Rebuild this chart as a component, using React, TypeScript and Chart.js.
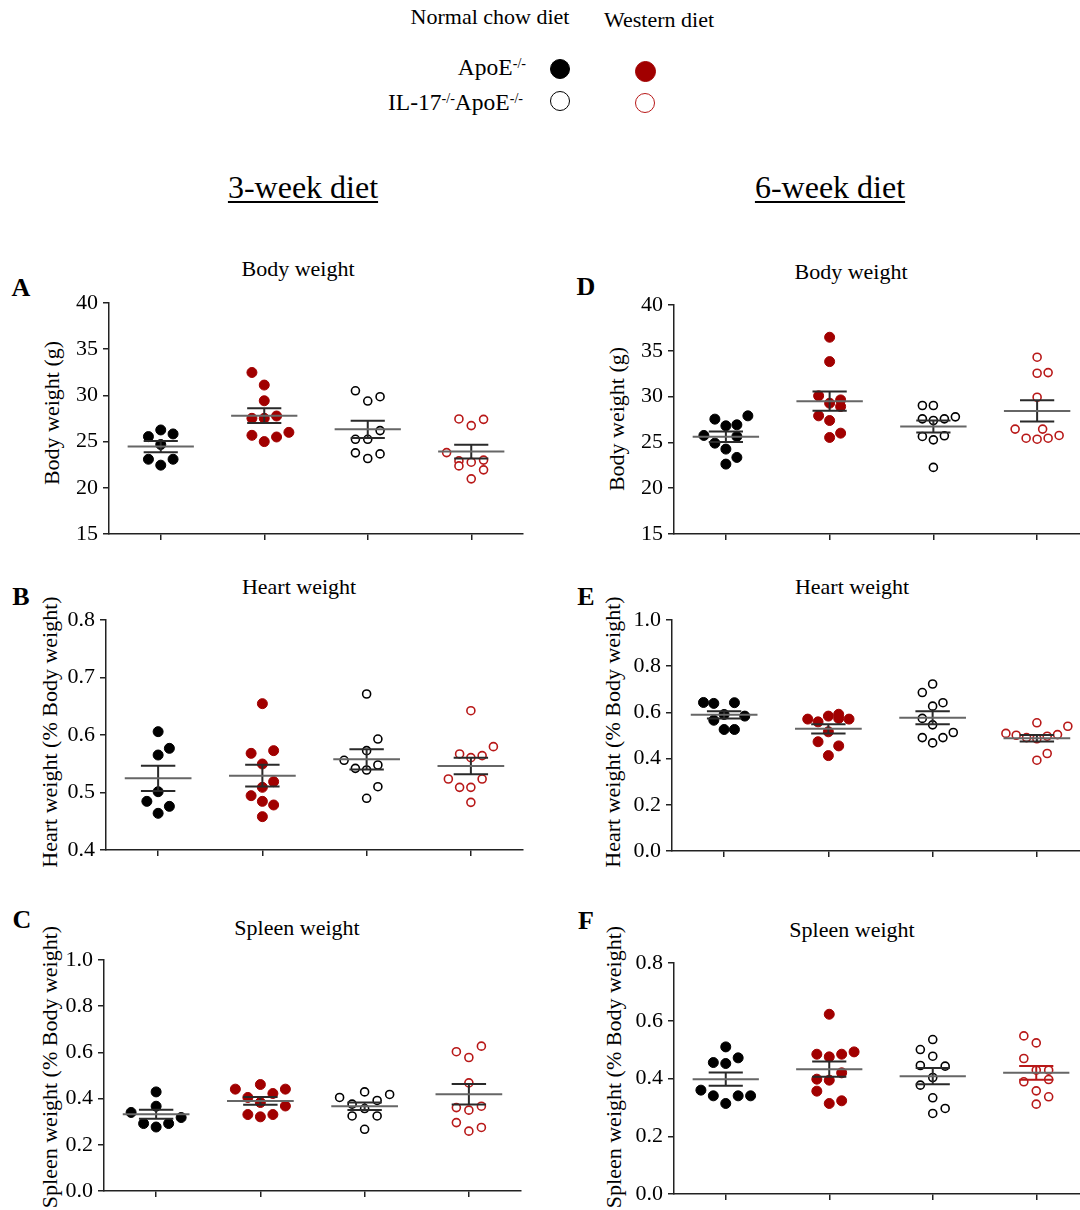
import React, { useEffect, useRef } from 'react';
import { Chart, registerables } from 'chart.js';

Chart.register(...registerables);

const FONT = '"Liberation Serif", "Times New Roman", Times, serif';
Chart.defaults.font.family = FONT;

// ---------- data ----------
const groupNames = ['ApoE-/- normal chow', 'ApoE-/- Western', 'IL-17-/-ApoE-/- normal chow', 'IL-17-/-ApoE-/- Western'];
const categories = [1, 2, 3, 4];

// A: Body weight, 3-week diet (g)
const aValues = [
  [26.26, 25.83, 25.54, 24.68, 23.09, 23.09, 22.45],
  [32.48, 31.12, 29.42, 27.52, 27.52, 27.77, 25.68, 25.0, 25.5, 26.0],
  [30.5, 29.39, 29.86, 26.19, 25.25, 25.25, 23.78, 23.17, 23.67],
  [27.45, 26.73, 27.41, 23.81, 22.91, 22.37, 22.77, 23.0, 21.94, 20.97],
];
const aSlots = [
  [0, 1, -1, 0, -1, 1, 0],
  [-1, 0, 0, -1, 0, 1, -1, 0, 1, 2],
  [-1, 0, 1, 1, -1, 0, -1, 0, 1],
  [-1, 0, 1, -2, -1, -1, 0, 1, 1, 0],
];
const aMean = [24.46, 27.81, 26.33, 23.92];
const aSem = [0.6, 0.79, 0.93, 0.75];
const aTicks = [15, 20, 25, 30, 35, 40];

// D: Body weight, 6-week diet (g)
const dValues = [
  [27.54, 27.9, 26.81, 26.92, 25.76, 25.65, 24.92, 24.27, 23.36, 22.63],
  [36.48, 33.82, 30.08, 29.28, 29.64, 28.92, 27.9, 27.39, 25.54, 26.01],
  [29.03, 29.03, 27.57, 27.39, 27.57, 27.79, 25.65, 25.28, 25.72, 22.27],
  [34.3, 32.55, 32.62, 29.93, 26.45, 25.46, 25.35, 26.45, 25.46, 25.76],
];
const dSlots = [
  [-1, 2, 0, 1, -2, 1, -1, 0, 1, 0],
  [0, 0, -1, 0, 1, 1, -1, 0, 0, 1],
  [-1, 0, -1, 0, 1, 2, -1, 0, 1, 0],
  [0, 0, 1, 0, -2, -1, 0, 0.5, 1, 2],
];
const dMean = [25.61, 29.5, 26.74, 28.44];
const dSem = [0.57, 1.05, 0.66, 1.15];
const dTicks = [15, 20, 25, 30, 35, 40];

// B: Heart weight, 3-week diet (% body weight)
const bValues = [
  [0.6058, 0.5768, 0.5652, 0.5014, 0.4846, 0.4759, 0.4638],
  [0.6545, 0.5681, 0.5728, 0.5496, 0.5188, 0.509, 0.4945, 0.4846, 0.4783, 0.458],
  [0.6713, 0.593, 0.5728, 0.556, 0.542, 0.5391, 0.5478, 0.5101, 0.4899],
  [0.6423, 0.5797, 0.567, 0.5606, 0.5641, 0.5235, 0.5235, 0.509, 0.509, 0.4829],
];
const bSlots = [
  [0, 1, 0, 0, -1, 1, 0],
  [0, -1, 1, 0, 1, 0, -1, 0, 1, 0],
  [0, 1, 0, -2, -1, 0, 1, 1, 0],
  [0, 2, -1, 0, 1, -2, 1, -1, 0, 0],
];
const bMean = [0.5246, 0.5293, 0.5577, 0.5461];
const bSem = [0.0218, 0.0189, 0.0177, 0.0142];
const bTicks = [0.4, 0.5, 0.6, 0.7, 0.8];

// E: Heart weight, 6-week diet (% body weight)
const eValues = [
  [0.643, 0.639, 0.642, 0.591, 0.584, 0.566, 0.526, 0.526],
  [0.571, 0.559, 0.584, 0.592, 0.574, 0.571, 0.516, 0.473, 0.455, 0.413],
  [0.723, 0.686, 0.642, 0.627, 0.574, 0.546, 0.513, 0.491, 0.491, 0.468],
  [0.555, 0.54, 0.509, 0.501, 0.491, 0.486, 0.497, 0.504, 0.422, 0.393],
];
const eSlots = [
  [-2, -1, 1, 0, 2, -1, 0, 1],
  [-2, -1, 0, 1, 1, 2, 0, -1, 1, 0],
  [0, -1, 1, 0, -1, 0, 2, 1, -1, 0],
  [0, 3, -3, -2, -1, 0, 1, 2, 1, 0],
];
const eMean = [0.5896, 0.529, 0.577, 0.488];
const eSem = [0.0159, 0.02, 0.028, 0.014];
const eTicks = [0, 0.2, 0.4, 0.6, 0.8, 1.0];

// C: Spleen weight, 3-week diet (% body weight)
const cValues = [
  [0.429, 0.367, 0.34, 0.318, 0.292, 0.292, 0.277],
  [0.461, 0.441, 0.441, 0.422, 0.405, 0.383, 0.368, 0.331, 0.331, 0.321],
  [0.429, 0.418, 0.405, 0.392, 0.376, 0.357, 0.325, 0.325, 0.267],
  [0.627, 0.603, 0.578, 0.468, 0.367, 0.361, 0.35, 0.296, 0.275, 0.259],
];
const cSlots = [
  [0, 0, -2, 2, -1, 1, 0],
  [0, -2, 2, 1, -1, 0, 2, -1, 1, 0],
  [0, 2, -2, 1, -1, 0, -1, 1, 0],
  [1, -1, 0, 0, 1, -1, 0, -1, 1, 0],
];
const cMean = [0.332, 0.39, 0.367, 0.419];
const cSem = [0.0195, 0.017, 0.0165, 0.044];
const cTicks = [0, 0.2, 0.4, 0.6, 0.8, 1.0];

// F: Spleen weight, 6-week diet (% body weight)
const fValues = [
  [0.5095, 0.4553, 0.4519, 0.4715, 0.3597, 0.34, 0.34, 0.34, 0.3135],
  [0.6225, 0.4841, 0.4749, 0.4841, 0.4922, 0.4196, 0.3977, 0.3942, 0.3562, 0.3135, 0.3228],
  [0.5349, 0.5003, 0.4772, 0.445, 0.4427, 0.4035, 0.3769, 0.3331, 0.2963, 0.279],
  [0.5476, 0.5233, 0.4692, 0.4288, 0.4288, 0.3885, 0.3965, 0.3573, 0.3366, 0.3112],
];
const fSlots = [
  [0, -1, 0, 1, -2, -1, 1, 2, 0],
  [0, -1, 0, 1, 2, 1, -1, 0, -1, 0, 1],
  [0, -1, 0, -1, 1, 0, -1, 0, 1, 0],
  [-1, 0, -1, 0, 1, -1, 1, 0, 1, 0],
];
const fMean = [0.3977, 0.4323, 0.4081, 0.4196];
const fSem = [0.023, 0.0265, 0.0283, 0.0237];
const fTicks = [0, 0.2, 0.4, 0.6, 0.8];

// ---------- styles ----------
const AXIS = '#222222';
const MEAN_COLOR = '#666666';
const SEM_COLOR = '#2a2a2a';
const RED_FILL = '#a10000';
const RED_LINE = '#b81818';

const groupStyle = [
  { fill: '#000000', stroke: '#000000', radius: 5, border: 1 },
  { fill: RED_FILL, stroke: RED_FILL, radius: 5, border: 1 },
  { fill: '#ffffff', stroke: '#000000', radius: 4, border: 1.6 },
  { fill: '#ffffff', stroke: RED_LINE, radius: 4, border: 1.6 },
];

type Box = { left: number; top: number; w: number; h: number };
type PanelCfg = {
  values: number[][];
  slots: number[][];
  mean: number[];
  sem: number[];
  ticks: number[];
  decimals: number;
  slotWidth: number;
  semColors: string[];
  box: Box;
};

const PAD_L = 80;
const PAD_T = 20;
const PAD_R = 10;
const PAD_B = 30;

function buildDatasets(p: PanelCfg) {
  const ds: any[] = [];
  categories.forEach((c, g) => {
    const m = p.mean[g];
    const s = p.sem[g];
    ds.push({
      type: 'line',
      label: groupNames[g] + ' mean',
      data: [{ x: c - 0.32, y: m }, { x: c + 0.32, y: m }],
      borderColor: MEAN_COLOR,
      borderWidth: 2,
      pointRadius: 0,
      fill: false,
      order: 0,
    });
    ds.push({
      type: 'line',
      label: groupNames[g] + ' SEM',
      data: [
        { x: c - 0.165, y: m + s },
        { x: c + 0.165, y: m + s },
        { x: c + 0.165, y: null },
        { x: c - 0.165, y: m - s },
        { x: c + 0.165, y: m - s },
        { x: c, y: null },
        { x: c, y: m + s },
        { x: c, y: m - s },
      ],
      borderColor: p.semColors[g],
      borderWidth: 2,
      pointRadius: 0,
      spanGaps: false,
      fill: false,
      order: 0,
    });
  });
  p.values.forEach((vals, g) => {
    const st = groupStyle[g];
    ds.push({
      type: 'scatter',
      label: groupNames[g],
      data: vals.map((v, i) => ({ x: categories[g] + p.slots[g][i] * p.slotWidth, y: v })),
      pointRadius: st.radius,
      pointBackgroundColor: st.fill,
      pointBorderColor: st.stroke,
      pointBorderWidth: st.border,
      order: 1,
    });
  });
  return ds;
}

function Panel({ cfg }: { cfg: PanelCfg }) {
  const ref = useRef<HTMLCanvasElement | null>(null);
  const { box } = cfg;
  const W = Math.round(box.w + PAD_L + PAD_R);
  const H = Math.round(box.h + PAD_T + PAD_B);
  useEffect(() => {
    if (!ref.current) return;
    const chart = new Chart(ref.current, {
      type: 'scatter',
      data: { datasets: buildDatasets(cfg) },
      options: {
        responsive: false,
        animation: false,
        devicePixelRatio: 1,
        layout: { padding: { left: 0, top: PAD_T, right: PAD_R, bottom: 0 } },
        plugins: { legend: { display: false }, tooltip: { enabled: false }, title: { display: false } },
        scales: {
          x: {
            type: 'linear',
            min: 0.5,
            max: 4.5,
            afterBuildTicks: (s: any) => {
              s.ticks = categories.map((v) => ({ value: v }));
            },
            afterFit: (s: any) => {
              s.height = PAD_B;
            },
            ticks: { display: false },
            grid: { drawOnChartArea: false, drawTicks: true, tickLength: 6, color: AXIS, lineWidth: 1.5 },
            border: { display: true, color: AXIS, width: 1.5 },
          },
          y: {
            type: 'linear',
            min: cfg.ticks[0],
            max: cfg.ticks[cfg.ticks.length - 1],
            afterBuildTicks: (s: any) => {
              s.ticks = cfg.ticks.map((v) => ({ value: v }));
            },
            afterFit: (s: any) => {
              s.width = PAD_L;
            },
            ticks: {
              font: { family: FONT, size: 22 },
              color: '#000',
              padding: 5,
              callback: (v: any) => Number(v).toFixed(cfg.decimals),
            },
            grid: { drawOnChartArea: false, drawTicks: true, tickLength: 6, color: AXIS, lineWidth: 1.5 },
            border: { display: true, color: AXIS, width: 1.5 },
          },
        },
      } as any,
    });
    return () => chart.destroy();
  }, []);
  return (
    <canvas
      ref={ref}
      width={W}
      height={H}
      style={{ position: 'absolute', left: box.left - PAD_L, top: box.top - PAD_T, width: W, height: H }}
    />
  );
}

const defaultSem = [SEM_COLOR, SEM_COLOR, SEM_COLOR, SEM_COLOR];

const panels: { key: string; cfg: PanelCfg }[] = [
  { key: 'A', cfg: { values: aValues, slots: aSlots, mean: aMean, sem: aSem, ticks: aTicks, decimals: 0, slotWidth: 0.119, semColors: defaultSem, box: { left: 109, top: 303, w: 414, h: 231 } } },
  { key: 'D', cfg: { values: dValues, slots: dSlots, mean: dMean, sem: dSem, ticks: dTicks, decimals: 0, slotWidth: 0.106, semColors: defaultSem, box: { left: 674, top: 305, w: 415, h: 229 } } },
  { key: 'B', cfg: { values: bValues, slots: bSlots, mean: bMean, sem: bSem, ticks: bTicks, decimals: 1, slotWidth: 0.108, semColors: defaultSem, box: { left: 106, top: 620, w: 417, h: 230 } } },
  { key: 'E', cfg: { values: eValues, slots: eSlots, mean: eMean, sem: eSem, ticks: eTicks, decimals: 1, slotWidth: 0.099, semColors: defaultSem, box: { left: 672, top: 620, w: 417, h: 231 } } },
  { key: 'C', cfg: { values: cValues, slots: cSlots, mean: cMean, sem: cSem, ticks: cTicks, decimals: 1, slotWidth: 0.12, semColors: defaultSem, box: { left: 104, top: 960, w: 417, h: 231 } } },
  { key: 'F', cfg: { values: fValues, slots: fSlots, mean: fMean, sem: fSem, ticks: fTicks, decimals: 1, slotWidth: 0.12, semColors: [SEM_COLOR, SEM_COLOR, SEM_COLOR, RED_LINE], box: { left: 674, top: 963, w: 414, h: 231 } } },
];

type TProps = {
  x: number;
  y: number;
  size: number;
  children: React.ReactNode;
  bold?: boolean;
  rotate?: boolean;
  underline?: boolean;
  anchor?: 'center' | 'right';
};

function T({ x, y, size, children, bold, rotate, underline, anchor = 'center' }: TProps) {
  const tx = anchor === 'right' ? '-100%' : '-50%';
  return (
    <div
      style={{
        position: 'absolute',
        left: x,
        top: y,
        transform: `translate(${tx},-50%)${rotate ? ' rotate(-90deg)' : ''}`,
        fontSize: size,
        lineHeight: 1,
        whiteSpace: 'nowrap',
        fontWeight: bold ? 'bold' : 'normal',
        textDecoration: underline ? 'underline' : 'none',
        textDecorationThickness: underline ? 2 : undefined,
        textUnderlineOffset: underline ? 3 : undefined,
      }}
    >
      {children}
    </div>
  );
}

function Dot({ x, y, d, fill, stroke, bw }: { x: number; y: number; d: number; fill: string; stroke: string; bw: number }) {
  return (
    <div
      style={{
        position: 'absolute',
        left: x - d / 2,
        top: y - d / 2,
        width: d,
        height: d,
        boxSizing: 'border-box',
        borderRadius: '50%',
        background: fill,
        border: `${bw}px solid ${stroke}`,
      }}
    />
  );
}

const supStyle: React.CSSProperties = { fontSize: '0.6em', verticalAlign: '0.55em', lineHeight: 0 };

export default function App() {
  return (
    <div
      style={{
        position: 'absolute',
        left: 0,
        top: 0,
        width: 1080,
        height: 1210,
        overflow: 'hidden',
        background: '#fff',
        fontFamily: FONT,
        color: '#000',
      }}
    >
      {/* legend */}
      <T x={490} y={17} size={22}>Normal chow diet</T>
      <T x={659} y={20} size={22}>Western diet</T>
      <T x={526} y={68} size={23.5} anchor="right">
        ApoE<span style={supStyle}>-/-</span>
      </T>
      <T x={523} y={103} size={23.5} anchor="right">
        IL-17<span style={supStyle}>-/-</span>ApoE<span style={supStyle}>-/-</span>
      </T>
      <Dot x={560} y={69} d={20} fill="#000" stroke="#000" bw={1} />
      <Dot x={645} y={71} d={21} fill={RED_FILL} stroke={RED_FILL} bw={1} />
      <Dot x={560} y={101} d={20} fill="#fff" stroke="#000" bw={1.5} />
      <Dot x={645} y={103} d={20} fill="#fff" stroke={RED_LINE} bw={1.5} />

      {/* column headers */}
      <T x={303} y={187} size={32} underline>3-week diet</T>
      <T x={830} y={187} size={32} underline>6-week diet</T>

      {/* panel letters */}
      <T x={21} y={288} size={26} bold>A</T>
      <T x={586} y={287} size={26} bold>D</T>
      <T x={21} y={597} size={26} bold>B</T>
      <T x={586} y={597} size={26} bold>E</T>
      <T x={22} y={920} size={26} bold>C</T>
      <T x={586} y={921} size={26} bold>F</T>

      {/* panel titles */}
      <T x={298} y={269} size={22}>Body weight</T>
      <T x={851} y={272} size={22}>Body weight</T>
      <T x={299} y={587} size={22}>Heart weight</T>
      <T x={852} y={587} size={22}>Heart weight</T>
      <T x={297} y={928} size={22}>Spleen weight</T>
      <T x={852} y={930} size={22}>Spleen weight</T>

      {/* y-axis titles */}
      <T x={52} y={413} size={22} rotate>Body weight (g)</T>
      <T x={617} y={419} size={22} rotate>Body weight (g)</T>
      <T x={50} y={732} size={22} rotate>Heart weight (% Body weight)</T>
      <T x={613} y={732} size={22} rotate>Heart weight (% Body weight)</T>
      <T x={50} y={1067} size={22} rotate>Spleen weight (% Body weight)</T>
      <T x={614} y={1067} size={22} rotate>Spleen weight (% Body weight)</T>

      {panels.map((p) => (
        <Panel key={p.key} cfg={p.cfg} />
      ))}
    </div>
  );
}
